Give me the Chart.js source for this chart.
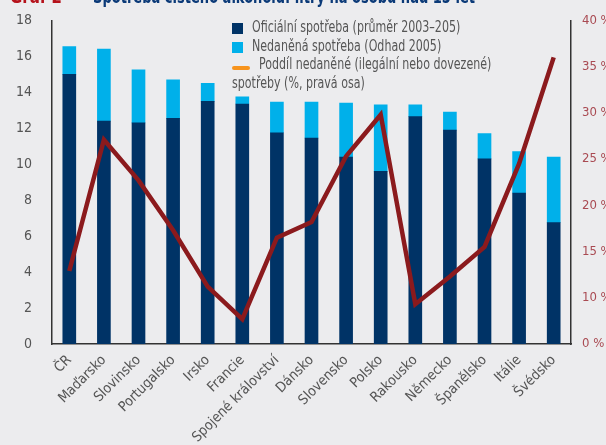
<!DOCTYPE html>
<html>
<head>
<meta charset="utf-8">
<script src="https://cdn.jsdelivr.net/npm/chart.js@4.4.1/dist/chart.umd.min.js"></script>
<style>
    html, body { margin: 0; padding: 0; background: #ececee; }
    #wrap { position: relative; width: 606px; height: 445px; overflow: hidden; }
    #legend {
        position: absolute; left: 232px; top: 18px;
        font-family: 'Liberation Sans Narrow', 'DejaVu Sans Condensed', 'Arial Narrow', sans-serif;
        font-size: 15px; color: #555; line-height: 18.5px;
    }
    #legend .row { position: relative; height: 18.5px; white-space: nowrap; }
    #legend .txt { display: inline-block; transform: scaleX(0.82); transform-origin: left center; }
    #legend .box { position: absolute; left: 0; top: 5px; width: 11px; height: 11px; }
    #legend .dash { position: absolute; left: 0; top: 11px; width: 18px; height: 4px; border-radius: 2px; background: #f7941d; }
</style>
</head>
<body>
<div id="wrap">
    <canvas id="chart" width="606" height="445"></canvas>
    <div id="legend">
        <div class="row"><span class="box" style="background:#003366"></span><span class="txt" style="margin-left:20px">Oficiální spotřeba (průměr 2003–205)</span></div>
        <div class="row"><span class="box" style="background:#00b0ea"></span><span class="txt" style="margin-left:20px">Nedaněná spotřeba (Odhad 2005)</span></div>
        <div class="row"><span class="dash"></span><span class="txt" style="margin-left:27px">Poddíl nedaněné (ilegální nebo dovezené)</span></div>
        <div class="row"><span class="txt">spotřeby (%, pravá osa)</span></div>
    </div>
</div>
<script>
// data
var categories = ['ČR', 'Maďarsko', 'Slovinsko', 'Portugalsko', 'Irsko', 'Francie',
    'Spojené království', 'Dánsko', 'Slovensko', 'Polsko', 'Rakousko', 'Německo',
    'Španělsko', 'Itálie', 'Švédsko'];
var officialValues = [15.0, 12.4, 12.3, 12.55, 13.5, 13.35, 11.75, 11.45, 10.4, 9.6, 12.65, 11.9, 10.3, 8.4, 6.75];
var untaxedValues = [1.55, 4.0, 2.95, 2.15, 1.0, 0.4, 1.7, 2.0, 3.0, 3.7, 0.65, 1.0, 1.4, 2.3, 3.65];
var untaxedSharePct = [12.9, 27.1, 22.7, 17.3, 11.2, 7.7, 16.5, 18.2, 25.3, 29.8, 9.3, 12.3, 15.5, 24.5, 36.0];
var leftMin = 0, leftMax = 18, leftStep = 2;
var rightMin = 5, rightMax = 40, rightStep = 5;

var fontFamily = "'Liberation Sans Narrow', 'DejaVu Sans Condensed', 'Arial Narrow', sans-serif";
Chart.defaults.font.family = fontFamily;

// the cut-off title at the very top
var titlePlugin = {
    id: 'cutTitle',
    afterDraw: function (chart) {
        var ctx = chart.ctx;
        ctx.save();
        ctx.font = 'bold 19px ' + fontFamily;
        ctx.textBaseline = 'alphabetic';
        ctx.fillStyle = '#b5121b';
        ctx.fillText('Graf 2', 10, 3, 52);
        ctx.fillStyle = '#0b3a78';
        ctx.fillText('Spotřeba čistého alkoholu: litry na osobu nad 15 let', 93, 3, 382);
        ctx.restore();
    }
};

var ctx = document.getElementById('chart').getContext('2d');
var chart = new Chart(ctx, {
    type: 'bar',
    data: {
        labels: categories,
        datasets: [{
            type: 'line',
            label: 'Poddíl nedaněné',
            data: untaxedSharePct,
            yAxisID: 'y1',
            borderColor: '#8b1a1d',
            borderWidth: 4.5,
            pointRadius: 0,
            tension: 0,
            order: 0
        }, {
            label: 'Oficiální spotřeba',
            data: officialValues,
            backgroundColor: '#003366',
            barThickness: 13,
            stack: 's',
            order: 1
        }, {
            label: 'Nedaněná spotřeba',
            data: untaxedValues,
            backgroundColor: '#00b0ea',
            barThickness: 13,
            stack: 's',
            order: 1
        }]
    },
    options: {
        responsive: false,
        animation: false,
        layout: { padding: { top: 19, left: 0, right: 0, bottom: 0 } },
        plugins: {
            legend: { display: false },
            tooltip: { enabled: false }
        },
        scales: {
            x: {
                stacked: true,
                grid: { display: false },
                border: { display: true, color: '#333', width: 1.5 },
                ticks: {
                    color: '#555',
                    font: { size: 14 },
                    minRotation: 45,
                    maxRotation: 45,
                    padding: 0
                },
                afterFit: function (s) { s.height = 101; }
            },
            y: {
                stacked: true,
                min: leftMin,
                max: leftMax,
                grid: { display: false },
                border: { display: true, color: '#333', width: 1.5 },
                ticks: {
                    stepSize: leftStep,
                    color: '#555',
                    font: { size: 14 },
                    padding: 12
                },
                afterFit: function (s) { s.width = 52; }
            },
            y1: {
                position: 'right',
                min: rightMin,
                max: rightMax,
                grid: { display: false },
                border: { display: true, color: '#333', width: 1.5 },
                ticks: {
                    stepSize: rightStep,
                    color: '#a94a52',
                    font: { size: 13 },
                    padding: 3,
                    callback: function (v) { return (v === rightMin ? 0 : v) + ' %'; }
                },
                afterFit: function (s) { s.width = 35; }
            }
        }
    },
    plugins: [titlePlugin]
});
</script>
</body>
</html>
